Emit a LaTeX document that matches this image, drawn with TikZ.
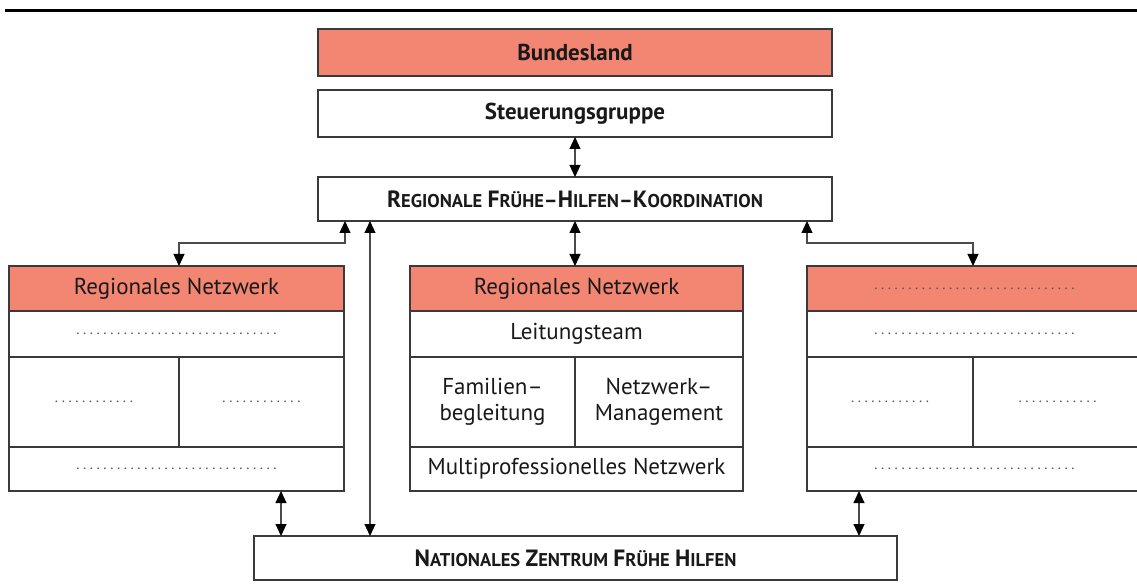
\documentclass[tikz,border=0pt]{standalone}
\usepackage{fontspec}
\setmainfont{PT Sans}
\usetikzlibrary{arrows.meta}
\definecolor{salmon}{HTML}{F28673}
\definecolor{edgec}{HTML}{3A3A3A}
\definecolor{wire}{HTML}{4A4A4A}
\definecolor{dotc}{HTML}{555555}
\newcommand\dotrow[1]{{\color{dotc}\fontsize{15}{17}\selectfont\foreach \k in {1,...,#1}{\makebox[6.8pt]{.}}}}
\newcommand\scw[2]{{\fontsize{23.5}{27}\selectfont #1}{\fontsize{18.5}{22}\selectfont #2}}
\begin{document}
\begin{tikzpicture}[x=1pt,y=-1pt,
  cell/.style={draw=edgec, line width=1.2pt, inner sep=0pt, outer sep=0pt, align=center,
    font=\fontsize{23}{26}\selectfont, text=black!90},
  head/.style={cell, fill=salmon},
  conn/.style={draw=wire, line width=1.1pt,
    arrows={Triangle[width=11pt,length=12pt,color=black]-Triangle[width=11pt,length=12pt,color=black]}}]
\useasboundingbox (0,0) rectangle (1137,585);
\clip (0,0) rectangle (1137,585);
\draw[line width=3pt] (5,10.5) -- (1137,10.5);
% top column
\node[head, minimum width=514pt, minimum height=47pt, font=\bfseries\fontsize{23}{26}\selectfont] (bl) at (575,52.5) {Bundesland};
\node[cell, minimum width=514pt, minimum height=47pt, font=\bfseries\fontsize{23}{26}\selectfont] (steu) at (575,113.5) {Steuerungsgruppe};
\node[cell, minimum width=514pt, minimum height=44pt, font=\bfseries\fontsize{21}{24}\selectfont] (rfhk) at (575,199)
  {\scw{R}{EGIONALE} \scw{F}{RÜHE}–\scw{H}{ILFEN}–\scw{K}{OORDINATION}};
% left network
\node[head, minimum width=335pt, minimum height=45pt] (lh) at (176.5,288.5) {Regionales Netzwerk};
\node[cell, minimum width=335pt, minimum height=46pt] (lr) at (176.5,334) {\dotrow{30}};
\node[cell, minimum width=170pt, minimum height=90pt] (lsl) at (94,402) {\dotrow{12}};
\node[cell, minimum width=165pt, minimum height=90pt] (lsr) at (261.5,402) {\dotrow{12}};
\node[cell, minimum width=335pt, minimum height=44pt] (lb) at (176.5,469) {\dotrow{30}};
% middle network
\node[head, minimum width=333pt, minimum height=45pt] (mh) at (576.5,288.5) {Regionales Netzwerk};
\node[cell, minimum width=333pt, minimum height=46pt] (mr) at (576.5,334) {Leitungsteam};
\node[cell, minimum width=165pt, minimum height=90pt] (msl) at (492.5,402) {Familien–\\begleitung};
\node[cell, minimum width=168pt, minimum height=90pt] (msr) at (659,402) {Netzwerk–\\Management};
\node[cell, minimum width=333pt, minimum height=44pt] (mb) at (576.5,469) {Multiprofessionelles Netzwerk};
% right network
\node[head, minimum width=335pt, minimum height=45pt] (rh) at (974.5,288.5) {\dotrow{30}};
\node[cell, minimum width=335pt, minimum height=46pt] (rr) at (974.5,334) {\dotrow{30}};
\node[cell, minimum width=166pt, minimum height=90pt] (rsl) at (890,402) {\dotrow{12}};
\node[cell, minimum width=169pt, minimum height=90pt] (rsr) at (1057.5,402) {\dotrow{12}};
\node[cell, minimum width=335pt, minimum height=44pt] (rb) at (974.5,469) {\dotrow{30}};
% national centre
\node[cell, minimum width=643pt, minimum height=44pt, font=\bfseries\fontsize{21}{24}\selectfont] (nz) at (575.5,558)
  {\scw{N}{ATIONALES} \scw{Z}{ENTRUM} \scw{F}{RÜHE} \scw{H}{ILFEN}};
% connectors
\coordinate (kl) at (345,243);
\coordinate (kr) at (807,243);
\coordinate (kv) at (370,0);
\coordinate (kb1) at (281,0);
\coordinate (kb2) at (859,0);
\draw[conn] (steu.south) -- (rfhk.north);
\draw[conn] (rfhk.south) -- (rfhk.south |- mh.north);
\draw[conn] (lsl.east |- lh.north) -- (lsl.east |- kl) -- (kl) -- (kl |- rfhk.south);
\draw[conn] (kr |- rfhk.south) -- (kr) -- (kr -| rsl.east) -- (rsl.east |- rh.north);
\draw[conn] (kv |- rfhk.south) -- (kv |- nz.north);
\draw[conn] (kb1 |- lb.south) -- (kb1 |- nz.north);
\draw[conn] (kb2 |- rb.south) -- (kb2 |- nz.north);
\end{tikzpicture}
\end{document}
